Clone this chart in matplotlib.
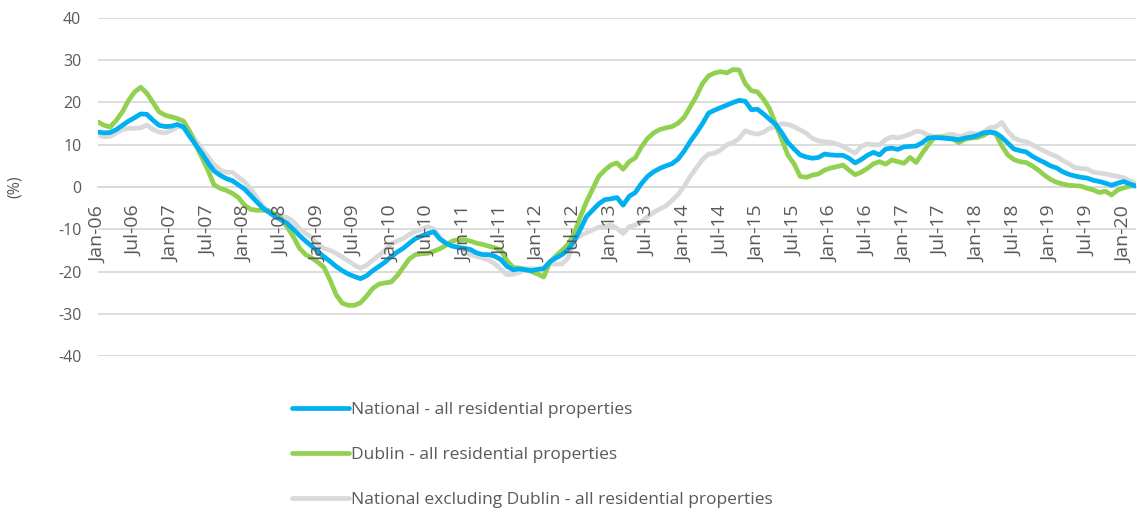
import numpy as np
import pandas as pd
import matplotlib
matplotlib.use("Agg")
import matplotlib.pyplot as plt

months = pd.date_range("2006-01-01", "2020-03-01", freq="MS")
month_labels = [d.strftime("%b-%y") for d in months]

national = [
    13.0, 12.8, 12.9, 13.6, 14.6, 15.6, 16.4, 17.3, 17.2, 15.8, 14.6, 14.3,
    14.4, 14.8, 14.2, 12.0, 10.0, 8.0, 5.8, 3.8, 2.8, 2.0, 1.5, 0.5,
    -0.5, -2.0, -3.5, -5.0, -6.0, -7.0, -7.8, -8.6, -10.0, -11.5, -12.8, -14.0,
    -15.3, -16.5, -17.6, -18.8, -19.8, -20.6, -21.2, -21.7, -21.0, -19.8, -18.8, -17.8,
    -16.5, -15.4, -14.5, -13.3, -12.2, -11.6, -11.0, -10.6, -12.3, -13.3, -14.0, -14.3,
    -14.5, -14.8, -15.6, -16.0, -16.0, -16.4, -17.2, -18.8, -19.6, -19.4, -19.6, -19.8,
    -19.5, -19.3, -17.7, -16.8, -16.0, -14.8, -12.8, -10.0, -7.0, -5.5, -4.0, -3.0,
    -2.8, -2.5, -4.3, -2.2, -1.3, 0.8, 2.5, 3.6, 4.4, 5.0, 5.5, 6.6,
    8.5, 10.8, 12.8, 15.0, 17.5, 18.2, 18.8, 19.4, 20.0, 20.5, 20.3, 18.3,
    18.4, 17.3, 16.0, 14.8, 12.8, 10.5, 9.0, 7.6, 7.1, 6.8, 7.0, 7.8,
    7.6, 7.5, 7.5, 6.8, 5.7, 6.5, 7.5, 8.2, 7.6, 9.0, 9.2, 8.9,
    9.5, 9.6, 9.7, 10.5, 11.6, 11.7, 11.6, 11.5, 11.4, 11.2, 11.6, 11.8,
    12.2, 12.8, 13.0, 12.8, 11.8, 10.4, 9.0, 8.6, 8.3, 7.3, 6.5, 5.8,
    5.0, 4.5, 3.6, 3.0, 2.6, 2.3, 2.1, 1.6, 1.3, 0.9, 0.4, 0.9,
    1.3, 0.7, 0.2,
]

dublin = [
    15.4, 14.6, 14.2, 15.8, 17.8, 20.5, 22.5, 23.6, 22.2, 20.0, 17.8, 17.0,
    16.6, 16.2, 15.6, 13.2, 10.0, 7.0, 4.0, 0.5, -0.3, -0.8, -1.5, -2.5,
    -4.3, -5.3, -5.5, -5.5, -5.6, -6.5, -7.5, -9.5, -11.8, -14.5, -16.0, -16.8,
    -17.8, -19.0, -22.0, -25.5, -27.5, -28.0, -28.0, -27.4, -25.8, -24.0, -23.0, -22.7,
    -22.5, -21.0, -19.0, -17.0, -16.0, -15.8, -15.7, -15.2, -14.6, -13.8, -12.8, -12.5,
    -12.5, -12.8, -13.3, -13.6, -14.0, -14.4, -15.0, -17.5, -19.0, -19.2, -19.5, -20.0,
    -20.6, -21.3, -17.8, -16.3, -15.0, -13.5, -11.0, -7.0, -3.5, -0.5, 2.5, 4.0,
    5.2, 5.7, 4.2, 6.0, 6.9, 9.5, 11.5, 12.8, 13.6, 14.0, 14.3, 15.1,
    16.5, 19.0, 21.5, 24.5, 26.3, 27.0, 27.3, 27.0, 27.8, 27.7, 24.5, 22.8,
    22.5, 20.8, 18.5, 14.8, 11.2, 7.5, 5.5, 2.5, 2.3, 2.8, 3.1, 4.0,
    4.5, 4.8, 5.2, 4.0, 2.9, 3.5, 4.4, 5.5, 6.0, 5.4, 6.4, 6.0,
    5.6, 7.0, 5.8, 8.0, 10.0, 11.7, 11.9, 11.6, 11.3, 10.5, 11.3, 11.6,
    11.7, 12.2, 13.0, 12.6, 9.8, 7.6, 6.5, 6.0, 5.8, 5.0, 4.0, 2.8,
    1.8, 1.1, 0.7, 0.4, 0.3, 0.2, -0.3, -0.7, -1.3, -1.0, -1.9, -0.7,
    -0.2, 0.2, 0.3,
]

excl_dublin = [
    12.3, 11.9, 12.0, 12.8, 13.6, 13.9, 13.9, 14.0, 14.7, 13.6, 13.0, 12.8,
    13.4, 14.2, 14.3, 13.2, 11.0, 9.0, 7.2, 5.3, 4.0, 3.5, 3.5, 2.3,
    1.2, -0.5, -2.5, -4.5, -5.8, -6.5, -6.9, -7.2, -8.2, -9.8, -11.0, -12.0,
    -13.5, -14.5, -15.0, -15.7, -16.6, -17.5, -18.5, -19.2, -18.5, -17.3, -16.2, -15.0,
    -13.5, -12.8, -12.2, -11.2, -10.5, -10.0, -9.4, -10.0, -12.0, -13.5, -13.8, -14.3,
    -15.2, -16.0, -16.5, -16.8, -17.3, -18.2, -19.5, -20.8, -20.6, -20.2, -19.4, -19.3,
    -19.6, -19.5, -18.0, -18.3, -18.2, -16.8, -12.5, -11.5, -10.8, -10.2, -9.5, -9.3,
    -9.0, -9.8, -11.0, -9.4, -9.0, -8.2, -7.0, -6.0, -5.2, -4.5, -3.2, -1.8,
    0.2, 2.5, 4.5, 6.5, 7.8, 8.0, 8.8, 10.0, 10.5, 11.5, 13.3, 12.8,
    12.5, 13.0, 13.9, 14.3, 15.0, 14.8, 14.3, 13.5, 12.7, 11.5, 10.9, 10.7,
    10.6, 10.2, 9.6, 8.8, 8.0, 9.6, 10.2, 10.0, 10.0, 11.2, 11.9, 11.6,
    12.0, 12.5, 13.2, 13.0, 12.2, 11.9, 11.8, 12.3, 12.5, 11.9, 12.3, 12.8,
    12.4, 13.0, 14.0, 14.2, 15.3, 13.2, 11.6, 11.0, 10.7, 10.0, 9.2, 8.5,
    7.8, 7.2, 6.3, 5.5, 4.6, 4.4, 4.3, 3.5, 3.3, 3.1, 2.8, 2.5,
    2.2, 1.5, 0.7,
]

series_names = [
    "National - all residential properties",
    "Dublin - all residential properties",
    "National excluding Dublin - all residential properties",
]
series_colors = ["#00B0F0", "#92D050", "#D9D9D9"]
y_ticks = [-40, -30, -20, -10, 0, 10, 20, 30, 40]

plt.rcParams["font.family"] = ["Open Sans", "DejaVu Sans"]
text_color = "#595959"

fig = plt.figure(figsize=(11.37, 5.13), dpi=100)
ax = fig.add_axes([98 / 1137, 1 - 356 / 513, 1038 / 1137, 338 / 513])

for s in ["top", "right", "left"]:
    ax.spines[s].set_visible(False)
ax.spines["bottom"].set_position(("data", 0))
ax.spines["bottom"].set_color("#D9D9D9")
ax.spines["bottom"].set_linewidth(1.3)
ax.spines["bottom"].set_zorder(1)

x = np.arange(len(month_labels))
ax.plot(x, excl_dublin, color=series_colors[2], lw=3.4, solid_capstyle="round",
        solid_joinstyle="round", zorder=3)
ax.plot(x, dublin, color=series_colors[1], lw=3.4, solid_capstyle="round",
        solid_joinstyle="round", zorder=4)
ax.plot(x, national, color=series_colors[0], lw=3.4, solid_capstyle="round",
        solid_joinstyle="round", zorder=5)

ax.set_xlim(0, len(x) - 1)
ax.set_ylim(-40, 40)
ax.set_yticks(y_ticks)
ax.set_yticklabels([str(v) for v in y_ticks])
ax.yaxis.grid(True, color="#D9D9D9", lw=1.3)
ax.set_axisbelow(True)
ax.xaxis.set_zorder(10)

tick_pos = list(range(0, len(x), 6))
ax.set_xticks(tick_pos)
ax.set_xticklabels([month_labels[i] for i in tick_pos])

ax.tick_params(axis="x", length=0, pad=13.5, labelsize=14, labelcolor=text_color,
               labelrotation=90)
ax.tick_params(axis="y", length=0, pad=12, labelsize=11.5, labelcolor=text_color)
for lbl in ax.get_xticklabels():
    lbl.set_va("top")
    lbl.set_ha("center")

fig.text(15 / 1137, 1 - 187 / 513, "(%)", rotation=90, ha="center", va="center",
         fontsize=11.5, color=text_color)

handles = [plt.Line2D([], [], color=c, lw=3.4, solid_capstyle="round") for c in series_colors]
leg = fig.legend(handles, series_names, loc="upper left",
                 bbox_to_anchor=(292 / 1137, 1 - 402 / 513),
                 frameon=False, fontsize=12.5, handlelength=3.3, handletextpad=0.1,
                 labelspacing=1.65, borderpad=0, borderaxespad=0)
for t in leg.get_texts():
    t.set_color(text_color)

fig.savefig("out.png", dpi=100)
